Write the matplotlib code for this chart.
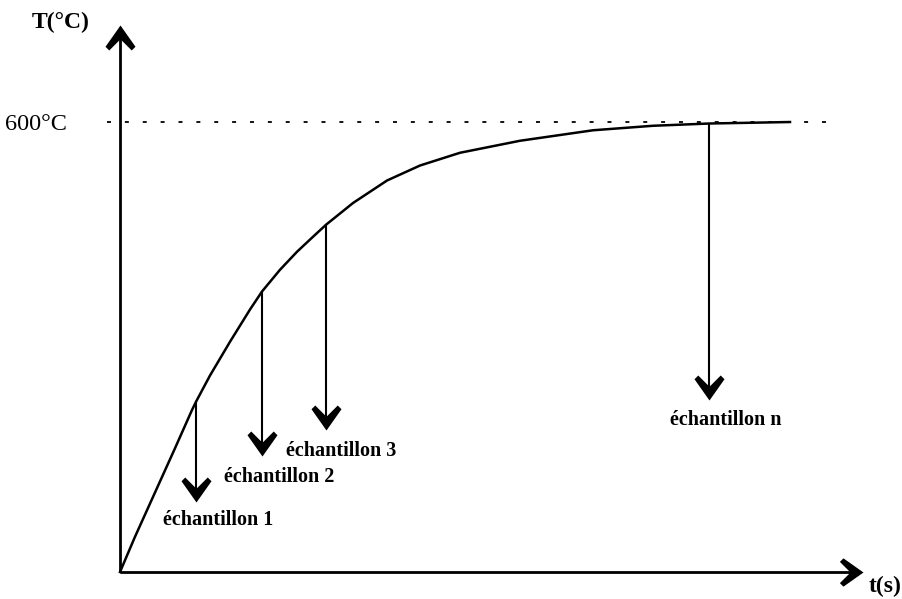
import matplotlib
matplotlib.use("Agg")
import matplotlib.pyplot as plt
from matplotlib.path import Path

# curve (t arbitrary units, T in degC)
t_curve = [0, 15, 35, 55, 72, 76, 90, 110, 130, 142, 160, 177, 193, 206,
           233, 267, 300, 340, 400, 473, 533, 589, 670]
T_curve = [0, 47, 106, 165, 216, 227, 262, 307, 350, 374, 403, 427, 447, 463,
           492, 522, 542, 559, 575, 589, 595, 598, 600]

T_max = 600

# samples: time, temperature on curve, arrow tip temperature
sample_t = [76, 142, 206, 589]
sample_T = [227, 374, 463, 598]
sample_tip = [93, 155, 189, 229]
sample_labels = ["échantillon 1", "échantillon 2", "échantillon 3", "échantillon n"]
label_pos = [(98, 69), (159, 127), (221, 161), (606, 203)]


def head(direction):
    # notched chevron with blunt wing ends, tip at (0,0)
    v = [(0, 0), (-0.6, 0.85), (-0.45, 1.0), (0, 0.55), (0.45, 1.0), (0.6, 0.85), (0, 0)]
    if direction == "down":
        pts = v
    elif direction == "up":
        pts = [(x, -y) for x, y in v]
    else:  # right
        pts = [(-y, x) for x, y in v]
    codes = [Path.MOVETO] + [Path.LINETO] * 5 + [Path.CLOSEPOLY]
    return Path(pts, codes)


fig = plt.figure(figsize=(9.02, 5.99), dpi=100)
ax = fig.add_axes([0, 0, 1, 1])
ax.set_xlim(-120, 782)
ax.set_ylim(-36, 762.7)
ax.axis("off")

# axes with arrows
ax.plot([0, 0], [0, 727], color="black", lw=2.0, solid_capstyle="butt")
ax.plot([0], [730], marker=head("up"), ms=36, color="black", mew=0)
ax.plot([0, 740], [0, 0], color="black", lw=2.0, solid_capstyle="butt")
ax.plot([743], [0], marker=head("right"), ms=34, color="black", mew=0)

# 600 degC dotted line
ax.plot([-13, 718], [T_max, T_max], color="black", lw=1.3, linestyle=(0, (2.2, 7.7)))

# curve
ax.plot(t_curve, T_curve, color="black", lw=1.8, solid_joinstyle="round")

# sample arrows
for t, T0, tip, lab, pos in zip(sample_t, sample_T, sample_tip, sample_labels, label_pos):
    ax.plot([t, t], [T0, tip + 5], color="black", lw=1.5)
    ax.plot([t], [tip], marker=head("down"), ms=36, color="black", mew=0)
    ax.text(pos[0], pos[1], lab, ha="center", va="center",
            family="Liberation Serif", fontweight="bold", fontsize=14.5)

ax.text(-59, 733, "T(°C)", ha="center", va="center",
        family="Liberation Serif", fontweight="bold", fontsize=17)
ax.text(-53, T_max - 3, "600°C", ha="right", va="center",
        family="Liberation Serif", fontsize=17.5)
ax.text(765, -19, "t(s)", ha="center", va="center",
        family="Liberation Serif", fontweight="bold", fontsize=17)

fig.savefig("out.png", dpi=100)
